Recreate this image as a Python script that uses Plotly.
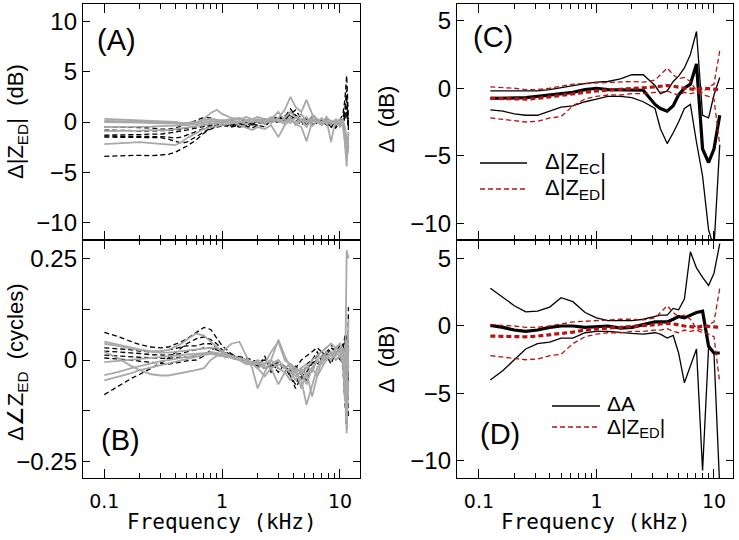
import plotly.graph_objects as go
from plotly.subplots import make_subplots

# ---------------- data ----------------
# Left panels (A, B): individual ears; frequency in kHz
FL = [0.1, 0.13, 0.17, 0.2, 0.25, 0.3, 0.35, 0.4, 0.45, 0.5, 0.6, 0.7, 0.8, 0.9, 1.0,
      1.2, 1.4, 1.6, 1.8, 2.0, 2.3, 2.6, 3.0, 3.4, 3.8, 4.2, 4.7, 5.2, 5.8, 6.4,
      7.0, 7.7, 8.4, 9.2, 10.0, 10.6, 11.0, 11.4, 11.8]

A_dashed = [
    [-3.4, -3.35, -3.3, -3.3, -3.35, -3.3, -3.2, -3.0, -2.7, -2.4, -1.8, -1.1, -0.7, -0.5, -0.4,
     -0.3, -0.2, -0.3, -0.1, 0.0, -0.2, 0.1, 0.2, 0.5, 1.3, 0.6, 0.2, 0.4, -0.1, 0.3,
     0.0, -0.3, 0.1, -0.2, 0.2, 0.8, 2.2, 4.6, 0.3],
    [-1.5, -1.5, -1.5, -1.5, -1.5, -1.55, -1.7, -1.95, -2.1, -2.0, -1.5, -1.0, -0.6, -0.4, -0.3,
     -0.2, -0.3, -0.1, -0.3, -0.1, 0.1, 0.3, -0.1, 0.4, 0.9, 0.7, 0.1, -0.2, 0.2, 0.0,
     -0.3, 0.2, -0.4, 0.1, -0.3, 0.5, 1.2, 3.2, -0.6],
    [-1.4, -1.4, -1.4, -1.4, -1.4, -1.45, -1.5, -1.6, -1.5, -1.3, -0.9, -0.6, -0.4, -0.3, -0.2,
     -0.4, -0.2, 0.0, -0.2, 0.1, -0.1, 0.2, 0.4, 0.1, 0.5, 0.2, -0.3, 0.1, -0.2, 0.2,
     -0.1, 0.1, -0.5, 0.0, -0.2, 0.3, 1.0, 2.2, -0.4],
    [-1.3, -1.3, -1.25, -1.25, -1.2, -1.2, -1.1, -1.0, -0.9, -0.8, -0.6, -0.4, -0.3, -0.4, -0.3,
     -0.5, -0.3, -0.6, -0.2, -0.3, 0.1, 0.2, 0.0, 0.3, 0.6, 0.3, 0.1, -0.1, 0.3, -0.1,
     0.2, -0.3, 0.1, -0.6, 0.0, 0.4, 0.6, 1.5, -0.8],
    [-0.5, -0.5, -0.5, -0.55, -0.6, -0.7, -0.7, -0.6, -0.4, -0.2, 0.2, 0.45, 0.4, 0.2, 0.0,
     -0.3, -0.5, -0.4, -0.6, -0.3, -0.5, 0.2, 0.6, 0.3, 0.8, 1.2, 0.3, 0.0, 0.5, -0.2,
     0.2, -0.1, -0.6, 0.2, -0.4, 0.1, 0.5, 1.0, -0.3],
    [-0.8, -0.8, -0.85, -0.9, -0.9, -0.9, -0.85, -0.8, -0.7, -0.6, -0.4, -0.3, -0.2, -0.1, 0.0,
     0.1, 0.0, 0.2, 0.0, 0.2, 0.3, 0.0, 0.3, 0.6, 0.2, 0.4, 0.0, 0.3, -0.3, 0.1,
     -0.2, 0.3, -0.1, -0.4, 0.2, -0.2, 0.4, 0.8, -0.5],
]

A_gray = [
    [0.3, 0.25, 0.2, 0.15, 0.1, 0.05, 0.0, 0.0, -0.1, -0.1, 0.0, 0.2, 0.3, 0.2, 0.1,
     0.3, 0.4, 0.2, 0.3, 0.5, 0.3, 0.1, 0.4, 1.2, 2.5, 1.5, 1.0, 2.2, 0.8, 0.3,
     -0.2, 0.5, -0.3, 0.2, -0.5, 0.0, -1.5, -3.5, -2.5],
    [0.1, 0.1, 0.05, 0.0, 0.0, 0.0, -0.1, -0.1, -0.1, -0.2, -0.1, 0.3, 0.9, 1.2, 0.8,
     0.4, 0.2, 0.5, 0.3, 0.1, -0.2, 0.3, 1.0, 0.2, -0.1, 0.5, 0.2, -0.5, 0.3, 0.0,
     0.4, -0.2, 0.1, -0.3, 0.2, -0.5, -2.0, -4.4, -1.0],
    [0.0, 0.0, 0.0, -0.05, -0.1, -0.1, -0.1, -0.15, -0.2, -0.2, -0.2, -0.1, 0.0, 0.1, 0.2,
     0.0, -0.3, -0.6, -0.8, -0.5, -0.7, -0.3, -1.5, -0.3, 0.3, -0.2, -0.5, -1.9, 0.0, 0.3,
     -0.3, 0.2, -2.0, 0.3, -0.1, 0.2, -1.0, -3.0, -2.0],
    [-0.5, -0.5, -0.5, -0.5, -0.45, -0.4, -0.4, -0.35, -0.3, -0.3, -0.2, 0.0, 0.1, 0.0, -0.1,
     0.2, 0.3, 0.2, 0.0, 0.3, 0.1, 0.5, 0.0, 0.4, 1.0, 0.4, 0.8, 0.0, 0.6, 0.2,
     0.0, 0.4, 0.1, -0.1, 0.3, 0.0, -1.0, -2.5, -3.0],
    [-0.9, -0.9, -0.85, -0.85, -0.8, -0.8, -0.8, -0.7, -0.6, -0.5, -0.4, -0.3, -0.2, -0.1, 0.0,
     0.1, 0.0, -0.2, 0.1, 0.0, 0.2, -0.1, 0.3, 0.0, 0.5, -0.3, 0.2, 0.5, -0.4, 0.1,
     0.3, -0.2, 0.0, 0.2, -0.3, 0.1, -0.8, -2.0, -1.5],
    [-2.2, -2.1, -2.0, -2.0, -2.1, -2.2, -2.3, -2.3, -2.0, -1.6, -1.1, -0.7, -0.5, -0.4, -0.3,
     -0.1, 0.0, 0.1, 0.0, 0.2, 0.0, 0.3, 0.1, -0.2, 0.2, 0.0, 0.3, -0.1, 0.2, 0.0,
     -0.2, 0.1, 0.0, -0.1, 0.2, 0.0, -0.5, -1.5, -2.5],
]

B_dashed = [
    [0.068, 0.058, 0.045, 0.038, 0.032, 0.03, 0.032, 0.038, 0.045, 0.052, 0.068, 0.08, 0.075, 0.055, 0.035,
     0.015, 0.005, 0.0, -0.005, -0.01, -0.015, -0.02, -0.01, -0.02, -0.03, -0.02, -0.03, -0.02, -0.01, 0.0,
     0.01, 0.02, 0.03, 0.02, 0.035, 0.0, -0.05, 0.05, -0.08],
    [-0.085, -0.065, -0.045, -0.035, -0.02, -0.008, 0.005, 0.018, 0.03, 0.04, 0.052, 0.057, 0.05, 0.04, 0.025,
     0.012, 0.005, 0.0, -0.005, -0.01, -0.02, -0.01, -0.03, -0.01, -0.04, -0.06, -0.03, -0.05, -0.02, -0.01,
     0.0, 0.01, -0.01, 0.02, 0.0, 0.03, -0.1, -0.17, 0.13],
    [0.03, 0.028, 0.025, 0.022, 0.02, 0.022, 0.025, 0.028, 0.032, 0.035, 0.035, 0.04, 0.04, 0.03, 0.02,
     0.01, 0.005, 0.0, -0.01, -0.005, -0.02, -0.01, -0.02, -0.03, -0.01, -0.02, 0.0, 0.01, 0.02, 0.03,
     0.02, 0.03, 0.04, 0.01, 0.04, 0.02, -0.06, -0.12, 0.05],
    [0.012, 0.01, 0.008, 0.006, 0.005, 0.004, 0.004, 0.005, 0.006, 0.008, 0.01, 0.012, 0.015, 0.012, 0.01,
     0.005, 0.0, -0.005, -0.01, -0.015, -0.02, -0.01, 0.0, -0.02, -0.01, -0.03, -0.05, -0.01, 0.0, 0.02,
     0.0, 0.015, 0.02, 0.0, 0.01, -0.02, -0.1, 0.06, -0.14],
    [0.005, 0.003, 0.0, -0.003, -0.005, -0.008, -0.01, -0.008, -0.005, -0.002, 0.0, 0.01, 0.025, 0.03, 0.02,
     0.01, 0.0, -0.005, -0.01, -0.02, 0.01, -0.03, -0.01, -0.02, -0.04, -0.07, -0.04, -0.03, -0.01, 0.01,
     0.0, 0.02, 0.02, 0.01, 0.03, 0.02, 0.06, -0.1, 0.02],
    [0.022, 0.02, 0.018, 0.016, 0.013, 0.012, 0.012, 0.014, 0.016, 0.02, 0.025, 0.03, 0.03, 0.025, 0.02,
     0.012, 0.008, 0.005, 0.0, -0.005, 0.0, -0.015, -0.005, -0.02, -0.025, -0.015, -0.03, -0.02, 0.0, 0.01,
     0.02, 0.01, 0.03, 0.025, 0.02, 0.04, -0.03, -0.15, 0.0],
]

B_gray = [
    [0.045, 0.038, 0.03, 0.026, 0.022, 0.022, 0.025, 0.032, 0.04, 0.05, 0.065, 0.06, 0.045, 0.03, 0.02,
     0.01, 0.0, -0.01, -0.01, -0.02, -0.01, 0.0, -0.02, -0.03, -0.02, -0.04, -0.03, -0.02, 0.0, 0.01,
     0.02, 0.03, 0.04, 0.03, 0.02, 0.0, -0.1, 0.27, 0.25],
    [0.04, 0.035, 0.028, 0.024, 0.02, 0.018, 0.018, 0.02, 0.022, 0.024, 0.026, 0.028, 0.03, 0.03, 0.02,
     0.04, 0.045, 0.01, -0.02, -0.07, -0.03, 0.0, 0.05, 0.01, -0.02, -0.03, -0.05, -0.11, -0.06, -0.02,
     0.0, 0.02, 0.01, 0.03, 0.04, 0.02, -0.05, -0.18, -0.05],
    [0.02, 0.005, -0.015, -0.025, -0.035, -0.038, -0.038, -0.035, -0.032, -0.03, -0.025, -0.02, 0.0, 0.01, 0.015,
     0.01, 0.005, 0.0, -0.01, -0.02, -0.04, -0.02, -0.06, -0.03, -0.05, -0.02, -0.07, -0.03, -0.09, -0.04,
     -0.02, 0.0, 0.02, 0.01, 0.03, 0.0, -0.04, -0.12, 0.1],
    [-0.037, -0.03, -0.02, -0.015, -0.008, -0.003, 0.0, 0.003, 0.006, 0.008, 0.012, 0.015, 0.02, 0.018, 0.015,
     0.01, 0.005, 0.0, -0.005, -0.01, -0.02, -0.01, 0.0, -0.02, -0.03, -0.05, -0.02, -0.04, -0.02, 0.0,
     -0.01, 0.01, 0.0, 0.02, 0.01, 0.03, -0.02, -0.08, 0.03],
    [-0.05, -0.042, -0.032, -0.025, -0.018, -0.012, -0.008, -0.004, 0.0, 0.003, 0.008, 0.012, 0.015, 0.012, 0.01,
     0.005, 0.0, -0.005, -0.01, -0.005, -0.015, -0.02, -0.01, -0.02, -0.01, -0.03, -0.02, -0.01, -0.03, 0.0,
     0.01, 0.0, 0.02, 0.0, 0.01, -0.01, -0.06, 0.02, -0.03],
    [-0.005, -0.002, 0.0, 0.002, 0.004, 0.006, 0.008, 0.01, 0.012, 0.014, 0.016, 0.018, 0.018, 0.015, 0.012,
     0.01, 0.005, 0.0, -0.01, 0.0, -0.01, 0.02, 0.045, 0.0, -0.01, -0.02, -0.03, -0.06, -0.02, -0.04,
     0.0, 0.01, 0.0, 0.03, 0.04, 0.01, -0.03, 0.05, -0.02],
]

# Right panels (C, D): mean and +/- SD; frequency in kHz
FR = [0.125, 0.16, 0.2, 0.25, 0.315, 0.4, 0.5, 0.63, 0.8, 1.0, 1.25, 1.6, 2.0, 2.5,
      3.15, 3.5, 4.0, 4.5, 5.0, 5.6, 6.3, 7.1, 8.0, 9.0, 10.0, 11.2]

ZEC_upper = [-0.2, -0.2, -0.25, -0.25, -0.2, -0.1, 0.05, 0.2, 0.35, 0.45, 0.5, 0.7, 1.0, 1.0,
             0.2, -0.4, -0.2, 0.5, 0.9, 1.5, 2.5, 4.2, -2.0, -2.2, -0.5, 0.8]
ZEC_mean = [-0.75, -0.75, -0.7, -0.7, -0.6, -0.5, -0.4, -0.3, -0.1, 0.0, -0.1, -0.1, -0.1, -0.15,
            -1.2, -1.5, -1.7, -1.3, -0.5, 0.0, 0.3, 1.8, -4.5, -5.5, -4.5, -2.0]
ZEC_lower = [-1.6, -1.7, -1.9, -2.0, -2.0, -1.7, -1.4, -1.3, -1.0, -0.8, -0.6, -0.6, -0.7, -1.0,
             -1.5, -3.0, -4.1, -3.3, -2.5, -1.5, -1.2, -4.0, -6.5, -10.5, -11.8, -4.2]

ZED_upper = [0.1, 0.05, 0.0, -0.1, -0.1, 0.0, 0.15, 0.3, 0.35, 0.4, 0.45, 0.5, 0.5, 0.45,
             0.6, 1.0, 1.5, 1.0, 0.7, 0.8, 0.5, -0.2, -0.3, 0.1, 0.3, 2.8]
ZED_mean = [-0.75, -0.78, -0.8, -0.8, -0.75, -0.65, -0.55, -0.45, -0.3, -0.2, -0.15, -0.1, -0.05, 0.0,
            0.1, 0.15, 0.2, 0.15, 0.05, 0.0, -0.05, -0.1, 0.0, -0.05, -0.1, -0.1]
ZED_lower = [-2.2, -2.3, -2.4, -2.5, -2.45, -2.2, -2.1, -1.3, -0.8, -0.6, -0.5, -0.5, -0.4, -0.4,
             -0.3, -0.3, -0.2, -0.4, -0.5, -0.3, -0.4, -0.3, -0.5, -0.6, -0.8, -4.2]

A_upper = [2.8, 2.1, 1.5, 1.05, 1.1, 1.4, 2.1, 1.8, 1.0, 0.6, 0.4, 0.4, 0.4, 0.5,
           0.7, 0.8, 0.8, 1.3, 1.2, 2.0, 5.5, 4.3, 3.6, 3.0, 3.9, 6.1]
A_mean = [0.05, -0.1, -0.3, -0.4, -0.3, -0.1, 0.0, 0.0, -0.1, -0.05, 0.0, -0.15, -0.1, 0.1,
          0.3, 0.3, 0.3, 0.5, 0.7, 0.6, 0.8, 1.0, 1.1, -1.5, -2.0, -2.0]
A_lower = [-4.0, -3.3, -2.5, -1.7, -1.3, -1.2, -0.9, -0.9, -0.5, -0.4, -0.4, -0.5, -0.55, -0.6,
           -0.5, -0.6, -0.9, -0.7, -2.0, -4.2, -3.0, -1.7, -10.7, -1.6, -2.0, -12.0]

XTICKS = [0.1, 1, 10]
XTICKTEXT = ["0.1", "1", "10"]
XMINOR = [0.2, 0.3, 0.4, 0.5, 0.6, 0.7, 0.8, 0.9, 2, 3, 4, 5, 6, 7, 8, 9]
DB_TICKS = [-10, -5, 0, 5, 10]
CYC_TICKS = [-0.25, -0.125, 0, 0.125, 0.25]
CYC_TEXT = ["\u22120.25", "", "0", "", "0.25"]

# ---------------- figure ----------------
W, H = 739, 540
GRAY = "#a9a9a9"
RED = "#b41414"
DASH = "5px,3px"

fig = make_subplots(rows=2, cols=2)

for ys in A_dashed:
    fig.add_trace(go.Scatter(x=FL, y=ys, mode="lines",
                             line=dict(color="black", width=1.3, dash=DASH)), row=1, col=1)
for ys in A_gray:
    fig.add_trace(go.Scatter(x=FL, y=ys, mode="lines",
                             line=dict(color=GRAY, width=1.8)), row=1, col=1)
for ys in B_dashed:
    fig.add_trace(go.Scatter(x=FL, y=ys, mode="lines",
                             line=dict(color="black", width=1.3, dash=DASH)), row=2, col=1)
for ys in B_gray:
    fig.add_trace(go.Scatter(x=FL, y=ys, mode="lines",
                             line=dict(color=GRAY, width=1.8)), row=2, col=1)

def add_band(row, up, mean, lo, color, dash):
    fig.add_trace(go.Scatter(x=FR, y=up, mode="lines",
                             line=dict(color=color, width=1.3, dash=dash)), row=row, col=2)
    fig.add_trace(go.Scatter(x=FR, y=lo, mode="lines",
                             line=dict(color=color, width=1.3, dash=dash)), row=row, col=2)
    fig.add_trace(go.Scatter(x=FR, y=mean, mode="lines",
                             line=dict(color=color, width=3.2, dash=dash)), row=row, col=2)

add_band(1, ZEC_upper, ZEC_mean, ZEC_lower, "black", "solid")
add_band(1, ZED_upper, ZED_mean, ZED_lower, RED, DASH)
add_band(2, A_upper, A_mean, A_lower, "black", "solid")
add_band(2, ZED_upper, ZED_mean, ZED_lower, RED, DASH)

def px_x(p):
    return p / W

def px_y(p):
    return 1 - p / H

dom_left = [px_x(83), px_x(360)]
dom_right = [px_x(457), px_x(733)]
dom_top = [px_y(240), px_y(4)]
dom_bot = [px_y(478), px_y(240)]

tick_font = dict(family="Liberation Sans, Arial, sans-serif", size=24, color="black")
xtick_font = dict(family="DejaVu Sans, sans-serif", size=19, color="black")

common_x = dict(type="log", showline=True, linecolor="black", linewidth=1.3, mirror="ticks",
                ticks="inside", ticklen=9, tickwidth=1.2, tickcolor="black",
                tickvals=XTICKS, ticktext=XTICKTEXT, showgrid=False, zeroline=False,
                automargin=False,
                minor=dict(tickvals=XMINOR, ticks="inside", ticklen=5, tickwidth=1.1,
                           tickcolor="black", showgrid=False),
                tickfont=xtick_font, ticklabelstandoff=6)
common_y = dict(showline=True, linecolor="black", linewidth=1.3, mirror="ticks",
                ticks="inside", ticklen=7, tickwidth=1.2, tickcolor="black",
                automargin=False,
                showgrid=False, zeroline=False, tickfont=tick_font)

rngL = [-1.181, 1.170]
rngR = [-1.187, 1.162]

fig.update_layout(
    width=W, height=H, margin=dict(l=0, r=0, t=0, b=0, pad=0, autoexpand=False),
    paper_bgcolor="white", plot_bgcolor="white", showlegend=False,
    xaxis=dict(common_x, domain=dom_left, range=rngL, showticklabels=False),
    xaxis2=dict(common_x, domain=dom_right, range=rngR, showticklabels=False),
    xaxis3=dict(common_x, domain=dom_left, range=rngL),
    xaxis4=dict(common_x, domain=dom_right, range=rngR),
    yaxis=dict(common_y, domain=dom_top, range=[-11.7, 11.7], tickvals=DB_TICKS),
    yaxis2=dict(common_y, domain=dom_top, range=[-11.24, 6.24], tickvals=DB_TICKS[:-1]),
    yaxis3=dict(common_y, domain=dom_bot, range=[-0.29, 0.295], tickvals=CYC_TICKS, ticktext=CYC_TEXT),
    yaxis4=dict(common_y, domain=dom_bot, range=[-11.26, 6.37], tickvals=DB_TICKS[:-1]),
)

ann_font = dict(family="Liberation Sans, Arial, sans-serif", color="black")
title_font = dict(family="Liberation Sans, Arial, sans-serif", size=22, color="black")
freq_font = dict(family="DejaVu Sans Mono, monospace", size=21, color="black")

annotations = [
    dict(text="(A)", x=px_x(117), y=px_y(40), font=dict(ann_font, size=29)),
    dict(text="(B)", x=px_x(120), y=px_y(440), font=dict(ann_font, size=29)),
    dict(text="(C)", x=px_x(493), y=px_y(37), font=dict(ann_font, size=29)),
    dict(text="(D)", x=px_x(500), y=px_y(434), font=dict(ann_font, size=29)),
    dict(text="\u0394|Z<sub>ED</sub>|  (dB)", x=px_x(17), y=px_y(122), textangle=-90, font=title_font),
    dict(text="\u0394\u2220Z<sub>ED</sub>  (cycles)", x=px_x(17), y=px_y(362), textangle=-90, font=title_font),
    dict(text="\u0394  (dB)", x=px_x(386), y=px_y(120), textangle=-90, font=title_font),
    dict(text="\u0394  (dB)", x=px_x(386), y=px_y(360), textangle=-90, font=title_font),
    dict(text="Frequency (kHz)", x=px_x(222), y=px_y(522), font=freq_font),
    dict(text="Frequency (kHz)", x=px_x(596), y=px_y(522), font=freq_font),
    dict(text="\u0394|Z<sub>EC</sub>|", x=px_x(543), y=px_y(163), xanchor="left", font=dict(ann_font, size=22)),
    dict(text="\u0394|Z<sub>ED</sub>|", x=px_x(543), y=px_y(189), xanchor="left", font=dict(ann_font, size=22)),
    dict(text="\u0394A", x=px_x(605), y=px_y(403), xanchor="left", font=dict(ann_font, size=21)),
    dict(text="\u0394|Z<sub>ED</sub>|", x=px_x(605), y=px_y(428), xanchor="left", font=dict(ann_font, size=21)),
]
for a in annotations:
    a.setdefault("xanchor", "center")
    a.update(xref="paper", yref="paper", showarrow=False, yanchor="middle")
fig.update_layout(annotations=annotations)

shapes = [
    dict(x0=px_x(480), x1=px_x(527), y0=px_y(163), y1=px_y(163), line=dict(color="black", width=1.3)),
    dict(x0=px_x(480), x1=px_x(527), y0=px_y(189), y1=px_y(189), line=dict(color=RED, width=1.3, dash=DASH)),
    dict(x0=px_x(552), x1=px_x(600), y0=px_y(406), y1=px_y(406), line=dict(color="black", width=1.3)),
    dict(x0=px_x(552), x1=px_x(600), y0=px_y(427), y1=px_y(427), line=dict(color=RED, width=1.3, dash=DASH)),
]
for s in shapes:
    s.update(type="line", xref="paper", yref="paper")
fig.update_layout(shapes=shapes)

fig.write_html("out.html", config={"displayModeBar": False},
               post_script="document.body.style.margin='0';document.body.style.padding='0';")
